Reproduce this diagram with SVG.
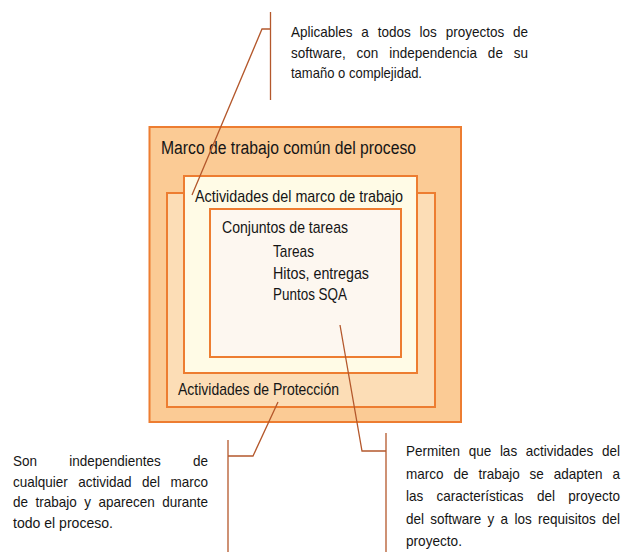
<svg xmlns="http://www.w3.org/2000/svg" width="626" height="552" viewBox="0 0 626 552">
<style>
.box{stroke:#ED7D31;stroke-width:2}
.lbl{font-family:"Liberation Sans",Arial,sans-serif;fill:#151515}
.big{font-size:18px}
.mid{font-size:17px}
.note{font-family:"Liberation Sans",Arial,sans-serif;font-size:15px;fill:#151515}
.con{fill:none;stroke:#B4582C;stroke-width:1.3}
</style>
<rect width="626" height="552" fill="#ffffff"/>
<g id="marco-comun">
<rect class="box" x="149.5" y="127" width="311.5" height="295" fill="#FBCB95"/>
<text class="lbl big" x="161" y="154" textLength="255" lengthAdjust="spacingAndGlyphs">Marco de trabajo común del proceso</text>
</g>
<g id="actividades-proteccion">
<rect class="box" x="167" y="193" width="268" height="214" fill="#FCDDB6"/>
<text class="lbl mid" x="178" y="395" textLength="161" lengthAdjust="spacingAndGlyphs">Actividades de Protección</text>
</g>
<g id="actividades-marco">
<rect class="box" x="184" y="176" width="233" height="197" fill="#FFFBE6"/>
<text class="lbl mid" x="195" y="202" textLength="208" lengthAdjust="spacingAndGlyphs">Actividades del marco de trabajo</text>
</g>
<g id="conjuntos-tareas">
<rect class="box" x="210" y="209" width="191" height="148" fill="#FDF7F0"/>
<text class="lbl mid" x="222" y="233" textLength="126" lengthAdjust="spacingAndGlyphs">Conjuntos de tareas</text>
<text class="lbl mid" x="273" y="257" textLength="41" lengthAdjust="spacingAndGlyphs">Tareas</text>
<text class="lbl mid" x="273" y="278.5" textLength="96" lengthAdjust="spacingAndGlyphs">Hitos, entregas</text>
<text class="lbl mid" x="273" y="300" textLength="74" lengthAdjust="spacingAndGlyphs">Puntos SQA</text>
</g>
<g id="nota-aplicables">
<text class="note" x="291" y="37" style="word-spacing:5.65px" textLength="237" lengthAdjust="spacingAndGlyphs">Aplicables a todos los proyectos de</text>
<text class="note" x="291" y="57.5" style="word-spacing:7.9px" textLength="237" lengthAdjust="spacingAndGlyphs">software, con independencia de su</text>
<text class="note" x="291" y="78" textLength="131" lengthAdjust="spacingAndGlyphs">tamaño o complejidad.</text>
</g>
<g id="nota-independientes">
<text class="note" x="13" y="466" style="word-spacing:31.6px" textLength="195" lengthAdjust="spacingAndGlyphs">Son independientes de</text>
<text class="note" x="13" y="486.5" style="word-spacing:7.45px" textLength="195" lengthAdjust="spacingAndGlyphs">cualquier actividad del marco</text>
<text class="note" x="13" y="507" style="word-spacing:4.15px" textLength="195" lengthAdjust="spacingAndGlyphs">de trabajo y aparecen durante</text>
<text class="note" x="13" y="527.5" textLength="100" lengthAdjust="spacingAndGlyphs">todo el proceso.</text>
</g>
<g id="nota-permiten" transform="matrix(0.9,0,0,1,406,0)">
<text class="note" x="0" y="456.5" style="word-spacing:5.46px" textLength="237.8" lengthAdjust="spacingAndGlyphs">Permiten que las actividades del</text>
<text class="note" x="0" y="479" style="word-spacing:6.87px" textLength="237.8" lengthAdjust="spacingAndGlyphs">marco de trabajo se adapten a</text>
<text class="note" x="0" y="501.5" style="word-spacing:10.63px" textLength="237.8" lengthAdjust="spacingAndGlyphs">las características del proyecto</text>
<text class="note" x="0" y="524" style="word-spacing:2.81px" textLength="237.8" lengthAdjust="spacingAndGlyphs">del software y a los requisitos del</text>
<text class="note" x="0" y="546.5" textLength="62.2" lengthAdjust="spacingAndGlyphs">proyecto.</text>
</g>
<g id="connectors">
<path class="con" d="M270.5,12 V100 M270.5,29 H262 L192,195"/>
<path class="con" d="M228,440 V552 M228,456 H253 L278,402"/>
<path class="con" d="M386,433 V552 M386,451 H362 L340,325"/>
</g>
</svg>
